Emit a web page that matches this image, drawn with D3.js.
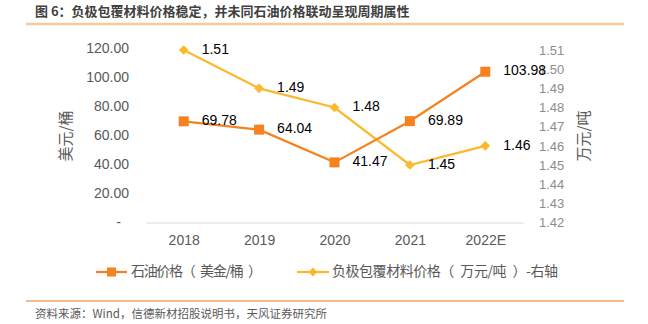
<!DOCTYPE html>
<html>
<head>
<meta charset="utf-8">
<script src="https://cdn.jsdelivr.net/npm/d3@7"></script>
<style>
  body { margin: 0; background: #fff; }
  svg { display: block; font-family: "Liberation Sans", Arial, "Noto Sans CJK SC", sans-serif; }
  .cjk { font-family: "Noto Sans CJK SC", "Liberation Sans", sans-serif; }
</style>
</head>
<body>
<div id="chart"></div>
<script>
// data
const years = ["2018", "2019", "2020", "2021", "2022E"];
const oilPrice = [69.78, 64.04, 41.47, 69.89, 103.98];
const coatPrice = [1.51, 1.49, 1.48, 1.45, 1.46];
const leftTicks = [0, 20, 40, 60, 80, 100, 120];
const rightTicks = [1.42, 1.43, 1.44, 1.45, 1.46, 1.47, 1.48, 1.49, 1.50, 1.51];

const W = 648, H = 324;
const margin = {top: 49, right: 125, bottom: 101.5, left: 146};
const width = W - margin.left - margin.right;
const height = H - margin.top - margin.bottom;

const oilColor = "#F5821F";
const coatColor = "#FBB92B";

const svg = d3.select("#chart")
  .append("svg")
    .attr("width", W)
    .attr("height", H)
    .attr("viewBox", `0 0 ${W} ${H}`);

// title + rule
svg.append("text")
    .attr("class", "cjk")
    .attr("x", 35)
    .attr("y", 12)
    .attr("dominant-baseline", "middle")
    .attr("font-size", 13)
    .attr("font-weight", "bold")
    .attr("fill", "#404040")
  .text("图 6：负极包覆材料价格稳定，并未同石油价格联动呈现周期属性");
svg.append("line")
    .attr("x1", 26).attr("x2", 624)
    .attr("y1", 24).attr("y2", 24)
    .attr("stroke", "#FBC898")
    .attr("stroke-width", 2.5);

const g = svg.append("g")
    .attr("transform", `translate(${margin.left},${margin.top})`);

// scales
const x = d3.scalePoint()
  .domain(years)
  .range([0, width])
  .padding(0.5);
const yLeft = d3.scaleLinear()
  .domain([0, 120])
  .range([height, -0.5]);
const yRight = d3.scaleLinear()
  .domain([1.42, 1.51])
  .range([height, 1]);

// x axis
const xAxis = g.append("g")
    .attr("transform", `translate(0,${height})`)
    .call(d3.axisBottom(x).tickSize(0).tickSizeOuter(0).tickPadding(13));
xAxis.select(".domain").attr("stroke", "#d9d9d9");
xAxis.selectAll("text")
    .attr("font-size", 14)
    .attr("fill", "#595959")
    .attr("font-family", "Liberation Sans, Arial, sans-serif");

// left axis
const yAxisL = g.append("g")
    .call(d3.axisLeft(yLeft).tickValues(leftTicks).tickSize(0).tickPadding(17)
      .tickFormat(d => d === 0 ? "-" : d3.format(".2f")(d)));
yAxisL.select(".domain").remove();
yAxisL.selectAll("text")
    .attr("font-size", 14)
    .attr("fill", "#595959")
    .attr("font-family", "Liberation Sans, Arial, sans-serif");
yAxisL.selectAll(".tick").filter(d => d === 0).select("text").attr("dx", -8);

// right axis
const yAxisR = g.append("g")
    .attr("transform", `translate(${width},0)`)
    .call(d3.axisRight(yRight).tickValues(rightTicks).tickSize(0).tickPadding(16)
      .tickFormat(d3.format(".2f")));
yAxisR.select(".domain").remove();
yAxisR.selectAll("text")
    .attr("font-size", 13)
    .attr("fill", "#8c8c8c")
    .attr("font-family", "Liberation Sans, Arial, sans-serif");

// axis titles
svg.append("text")
    .attr("class", "cjk")
    .attr("transform", "translate(67,136) rotate(-90)")
    .attr("text-anchor", "middle")
    .attr("dominant-baseline", "middle")
    .attr("font-size", 15)
    .attr("fill", "#595959")
  .text("美元/桶");
svg.append("text")
    .attr("class", "cjk")
    .attr("transform", "translate(585,136) rotate(-90)")
    .attr("text-anchor", "middle")
    .attr("dominant-baseline", "middle")
    .attr("font-size", 15)
    .attr("fill", "#595959")
  .text("万元/吨");

// series
const oilData = years.map((y, i) => ({year: y, value: oilPrice[i]}));
const coatData = years.map((y, i) => ({year: y, value: coatPrice[i]}));

const diamond = d3.symbol().type(d3.symbolDiamond2).size(60);

g.append("path")
    .datum(coatData)
    .attr("fill", "none")
    .attr("stroke", coatColor)
    .attr("stroke-width", 2.25)
    .attr("d", d3.line().x(d => x(d.year)).y(d => yRight(d.value)));
g.append("path")
    .datum(oilData)
    .attr("fill", "none")
    .attr("stroke", oilColor)
    .attr("stroke-width", 2.25)
    .attr("d", d3.line().x(d => x(d.year)).y(d => yLeft(d.value)));

g.selectAll(".coatPt")
  .data(coatData)
  .join("path")
    .attr("class", "coatPt")
    .attr("transform", d => `translate(${x(d.year)},${yRight(d.value)})`)
    .attr("d", diamond)
    .attr("fill", coatColor);
g.selectAll(".oilPt")
  .data(oilData)
  .join("rect")
    .attr("class", "oilPt")
    .attr("x", d => x(d.year) - 5)
    .attr("y", d => yLeft(d.value) - 5)
    .attr("width", 10)
    .attr("height", 10)
    .attr("fill", oilColor);

// value labels
g.selectAll(".coatLbl")
  .data(coatData)
  .join("text")
    .attr("class", "coatLbl")
    .attr("x", d => x(d.year) + 18)
    .attr("y", d => yRight(d.value))
    .attr("dominant-baseline", "middle")
    .attr("font-size", 14)
    .attr("fill", "#000")
  .text(d => d3.format(".2f")(d.value));
g.selectAll(".oilLbl")
  .data(oilData)
  .join("text")
    .attr("class", "oilLbl")
    .attr("x", d => x(d.year) + 18)
    .attr("y", d => yLeft(d.value))
    .attr("dominant-baseline", "middle")
    .attr("font-size", 14)
    .attr("fill", "#000")
  .text(d => d3.format(".2f")(d.value));

// legend
const legY = 272;
const leg1 = svg.append("g").attr("transform", `translate(96,${legY})`);
leg1.append("line").attr("x1", 0).attr("x2", 31).attr("stroke", oilColor).attr("stroke-width", 2.25);
leg1.append("rect").attr("x", 11).attr("y", -4.5).attr("width", 9).attr("height", 9).attr("fill", oilColor);
leg1.append("text")
    .attr("class", "cjk")
    .attr("x", 35)
    .attr("dominant-baseline", "middle")
    .attr("font-size", 14)
    .attr("fill", "#595959")
    .attr("textLength", 131)
    .attr("lengthAdjust", "spacing")
  .text("石油价格（\u2002美金/桶\u2002）");

const leg2 = svg.append("g").attr("transform", `translate(297,${legY})`);
leg2.append("line").attr("x1", 0).attr("x2", 32).attr("stroke", coatColor).attr("stroke-width", 2.25);
leg2.append("path").attr("transform", "translate(16,0)").attr("d", d3.symbol().type(d3.symbolDiamond2).size(50)).attr("fill", coatColor);
leg2.append("text")
    .attr("class", "cjk")
    .attr("x", 35)
    .attr("dominant-baseline", "middle")
    .attr("font-size", 14)
    .attr("fill", "#595959")
    .attr("textLength", 226)
    .attr("lengthAdjust", "spacing")
  .text("负极包覆材料价格（\u2002万元/吨\u2002）-右轴");

// source
svg.append("line")
    .attr("x1", 26).attr("x2", 624)
    .attr("y1", 301).attr("y2", 301)
    .attr("stroke", "#F2A462")
    .attr("stroke-width", 1.3);
svg.append("text")
    .attr("class", "cjk")
    .attr("x", 35)
    .attr("y", 315)
    .attr("dominant-baseline", "middle")
    .attr("font-size", 11.5)
    .attr("fill", "#595959")
  .text("资料来源：Wind，信德新材招股说明书，天风证券研究所");
</script>
</body>
</html>
